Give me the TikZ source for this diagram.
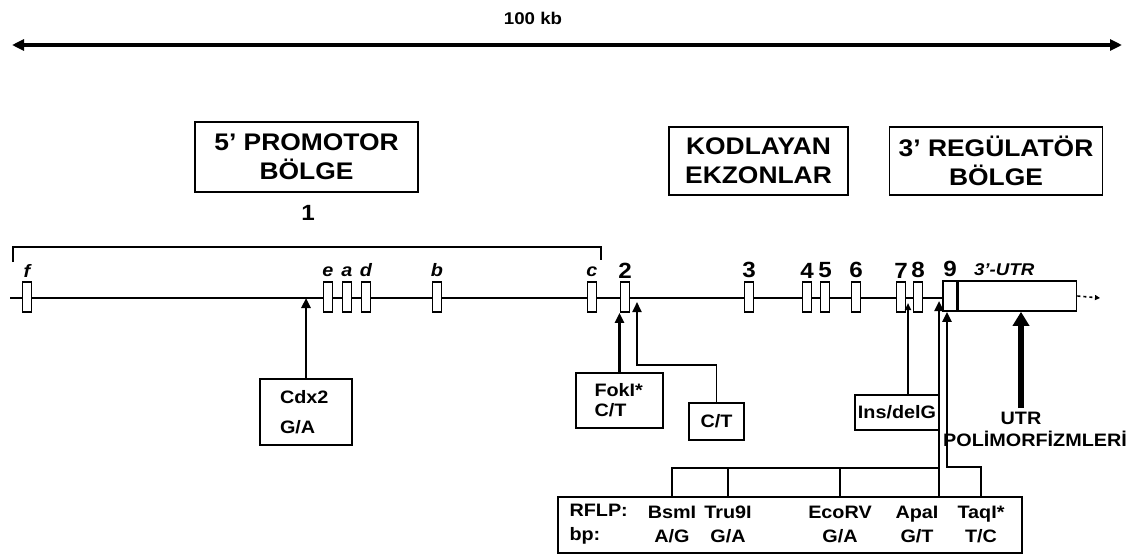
\documentclass[tikz,border=0pt]{standalone}
\usepackage{fontspec}
\setmainfont{Liberation Sans}[FakeStretch=1.1]
\usetikzlibrary{arrows.meta,positioning}

\begin{document}
\begin{tikzpicture}[
    x=1pt, y=-1pt,
    every node/.style={font=\bfseries\fontsize{18}{20}\selectfont},
    region/.style={draw,line width=1.8pt,align=center,inner sep=2pt,font=\bfseries\fontsize{24}{29}\selectfont},
    exon/.style={draw,line width=1.6pt,fill=white,minimum width=9pt,minimum height=30pt,inner sep=0pt},
    exlet/.style={font=\bfseries\itshape\fontsize{18}{20}\selectfont,inner sep=1pt},
    exnum/.style={font=\bfseries\fontsize{22}{24}\selectfont,inner sep=1pt},
    snpbox/.style={draw,line width=1.8pt,inner sep=0pt},
    arrow/.style={-{Triangle[length=10pt,width=9pt]},line width=2.4pt},
    link/.style={line width=1.8pt}
  ]
  \useasboundingbox (0,0) rectangle (1133,555);

  % scale bar
  \coordinate (scaleL) at (12,45);
  \coordinate (scaleR) at (1122,45);
  \draw[{Triangle[length=12pt,width=11pt]}-{Triangle[length=12pt,width=11pt]},line width=3.2pt] (scaleL) -- (scaleR);
  \node[font=\bfseries\fontsize{17}{19}\selectfont] (scale) at (533,18) {100 kb};

  % regions
  \node[region,minimum width=223pt,minimum height=70pt] (promo) at (306.5,157) {5' PROMOTOR\\BÖLGE};
  \node[region,minimum width=179pt,minimum height=68pt] (kod) at (758.5,161) {KODLAYAN\\EKZONLAR};
  \node[region,minimum width=213pt,minimum height=68pt] (reg) at (996,161) {3' REGÜLATÖR\\BÖLGE};

  % exon 1 bracket
  \node[exnum] (lab1) at (308,213) {1};
  \draw[link] (13,262) -- (13,247) -- (601,247) -- (601,260);

  % gene
  \coordinate (lineL) at (10,298);
  \coordinate (lineR) at (944,298);
  \coordinate (tailR) at (1100,298);
  \draw[line width=2.8pt] (lineL) -- (lineR);
  \foreach \name/\xc in {f/27,e/328,a/347,d/366,b/437,c/592} {
    \node[exon] (ex\name) at (\xc,297) {};
    \node[exlet,above=3pt of ex\name] (lab\name) {\name};
  }
  \foreach \num/\xc in {2/625,3/749,4/807,5/825,6/856,7/901,8/918} {
    \node[exon] (ex\num) at (\xc,297) {};
    \node[exnum,above=2pt of ex\num] (lab\num) {\num};
  }
  \node[exon,minimum width=14pt] (ex9) at (950,296) {};
  \node[exnum,above=2pt of ex9] (lab9) {9};
  \node[exon,minimum width=118pt,anchor=west] (utr) at (ex9.east) {};
  \node[exlet,font=\bfseries\itshape\fontsize{17}{19}\selectfont,above=3pt of utr.north west,anchor=south west,xshift=15pt] (labutr) {3'-UTR};
  \draw[dashed,line width=1.6pt,-{Triangle[length=5pt,width=5pt]}] (utr.east) -- (tailR);

  % SNP boxes
  \node[snpbox,minimum width=92pt,minimum height=66pt,text width=52pt,align=left] (cdx) at (306,412) {Cdx2\\[10pt]G/A};
  \node[snpbox,minimum width=87pt,minimum height=55pt,text width=50pt,align=left] (fok) at (619.5,400.5) {FokI*\\C/T};
  \node[snpbox,minimum width=55pt,minimum height=37pt] (ct) at (716.5,421.5) {C/T};
  \node[snpbox,minimum width=84pt,minimum height=35pt] (ins) at (897,412.5) {Ins/delG};

  \draw[arrow] (cdx.north) -- (cdx.north |- lineL);
  \draw[arrow] (fok.north) -- (fok.north |- ex2.south);
  \coordinate (ctbend) at (637,365);
  \coordinate (cttip) at (637,302);
  \draw[arrow,line width=1.8pt] (ct.north) |- (ctbend) -- (cttip);
  \coordinate (instip) at (908,303);
  \draw[arrow,-{Triangle[length=7pt,width=6pt]}] (ins.north -| instip) -- (instip);

  % RFLP box
  \node[snpbox,minimum width=464pt,minimum height=56pt] (rflp) at (790,525) {};
  \node[font=\bfseries\fontsize{18}{24}\selectfont,align=left,anchor=west] (rflplab) at (566,524) {RFLP:\\bp:};
  \node[font=\bfseries\fontsize{18}{24}\selectfont,align=center] (bsm) at (672,524) {BsmI\\A/G};
  \node[font=\bfseries\fontsize{18}{24}\selectfont,align=center] (tru) at (728,524) {Tru9I\\G/A};
  \node[font=\bfseries\fontsize{18}{24}\selectfont,align=center] (eco) at (840,524) {EcoRV\\G/A};
  \node[font=\bfseries\fontsize{18}{24}\selectfont,align=center] (apa) at (917,524) {ApaI\\G/T};
  \node[font=\bfseries\fontsize{18}{24}\selectfont,align=center] (taq) at (981,524) {TaqI*\\T/C};

  \coordinate (rflpjoin) at (939,468);
  \coordinate (apatip) at (939,301);
  \coordinate (taqbend) at (947,467);
  \draw[link] (bsm |- rflp.north) |- (rflpjoin);
  \draw[link] (tru |- rflp.north) -- (tru |- rflpjoin);
  \draw[link] (eco |- rflp.north) -- (eco |- rflpjoin);
  \draw[arrow] (rflpjoin |- rflp.north) -- (apatip);
  \draw[arrow] (taq |- rflp.north) |- (taqbend) -- (taqbend |- ex9.south);

  % UTR polymorphisms
  \node (utrlab) at (1021,418) {UTR};
  \node (polylab) at (1035,439) {POLİMORFİZMLERİ};
  \draw[-{Triangle[length=14pt,width=16pt]},line width=6pt] (utrlab.north) -- (utrlab.north |- utr.south);
\end{tikzpicture}
\end{document}
